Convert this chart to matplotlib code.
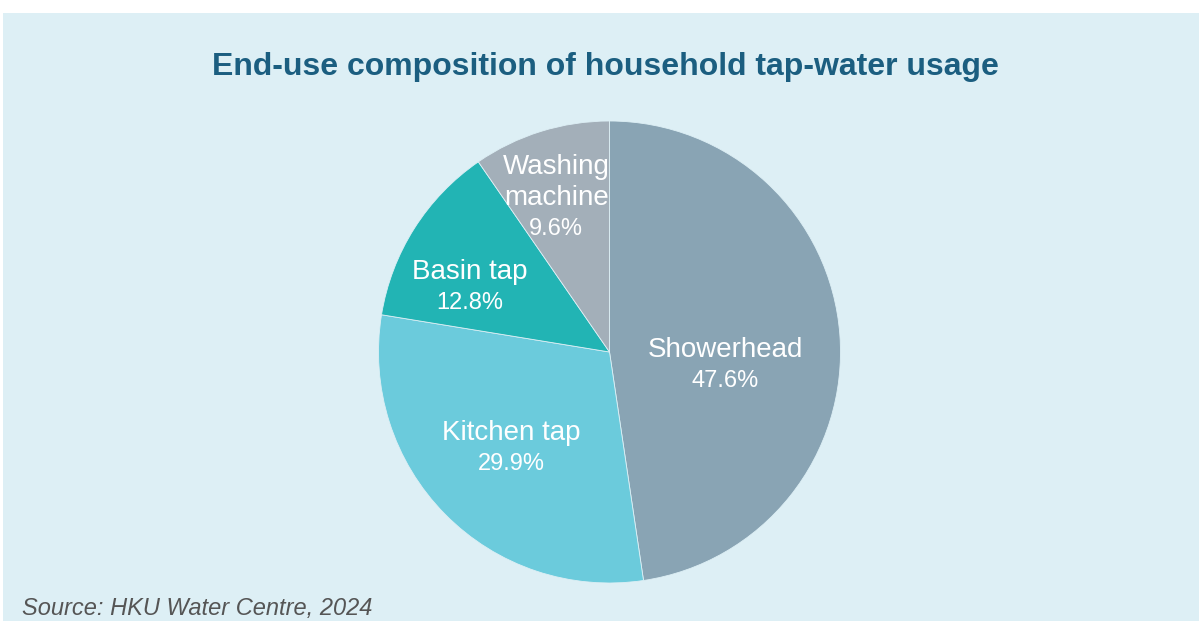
import numpy as np
import matplotlib
matplotlib.use("Agg")
import matplotlib.pyplot as plt
from matplotlib.patches import Rectangle

plt.rcParams['font.family'] = ['Liberation Sans', 'DejaVu Sans']

categories = ["Showerhead", "Kitchen tap", "Basin tap", "Washing\nmachine"]
shares = [47.6, 29.9, 12.8, 9.6]
colors = ["#89a4b4", "#6bcbdc", "#22b4b4", "#a3afb9"]
# label block placement: radial fraction and angular nudge (deg) from each wedge's middle
label_radius = [0.505, 0.595, 0.665, 0.705]
label_nudge = [-11.0, 0.0, 7.5, 1.8]

W, H = 1199, 621
fig = plt.figure(figsize=(W / 100, H / 100), dpi=100)
fig.patch.set_facecolor("white")
fig.patches.append(Rectangle((3 / W, 0), 1 - 3 / W, 1 - 13 / H, transform=fig.transFigure,
                             facecolor="#ddeff5", edgecolor="none", zorder=-10))

cx, cy, r = 609.5, 352, 231
ax = fig.add_axes([(cx - r) / W, (H - cy - r) / H, 2 * r / W, 2 * r / H])
ax.set_zorder(5)
ax.set_facecolor("none")
wedges, _ = ax.pie(shares, colors=colors, startangle=90, counterclock=False,
                   wedgeprops=dict(linewidth=0.6, edgecolor="#ddeff5"))
ax.set_xlim(-1, 1)
ax.set_ylim(-1, 1)
ax.set_aspect("equal")

line_px = 31
for w, name, val, rr, nudge in zip(wedges, categories, shares, label_radius, label_nudge):
    ang = np.deg2rad((w.theta1 + w.theta2) / 2 + nudge)
    x, y = rr * np.cos(ang), rr * np.sin(ang)
    lines = name.split("\n") + [f"{val:.1f}%"]
    n = len(lines)
    for i, txt in enumerate(lines):
        dy = ((n - 1) / 2 - i) * line_px
        is_pct = i == n - 1
        ax.annotate(txt, (x, y), xytext=(0, dy), textcoords="offset pixels",
                    ha="center", va="center", color="white",
                    fontsize=17 if is_pct else 20)

fig.text(605 / W, 1 - 67 / H, "End-use composition of household tap-water usage",
         ha="center", va="center", fontsize=23, fontweight="bold", color="#1b5e80")
fig.text(22 / W, 1 - 609 / H, "Source: HKU Water Centre, 2024", ha="left", va="center",
         fontsize=17, style="italic", color="#555555")

fig.savefig("out.png", dpi=100)
